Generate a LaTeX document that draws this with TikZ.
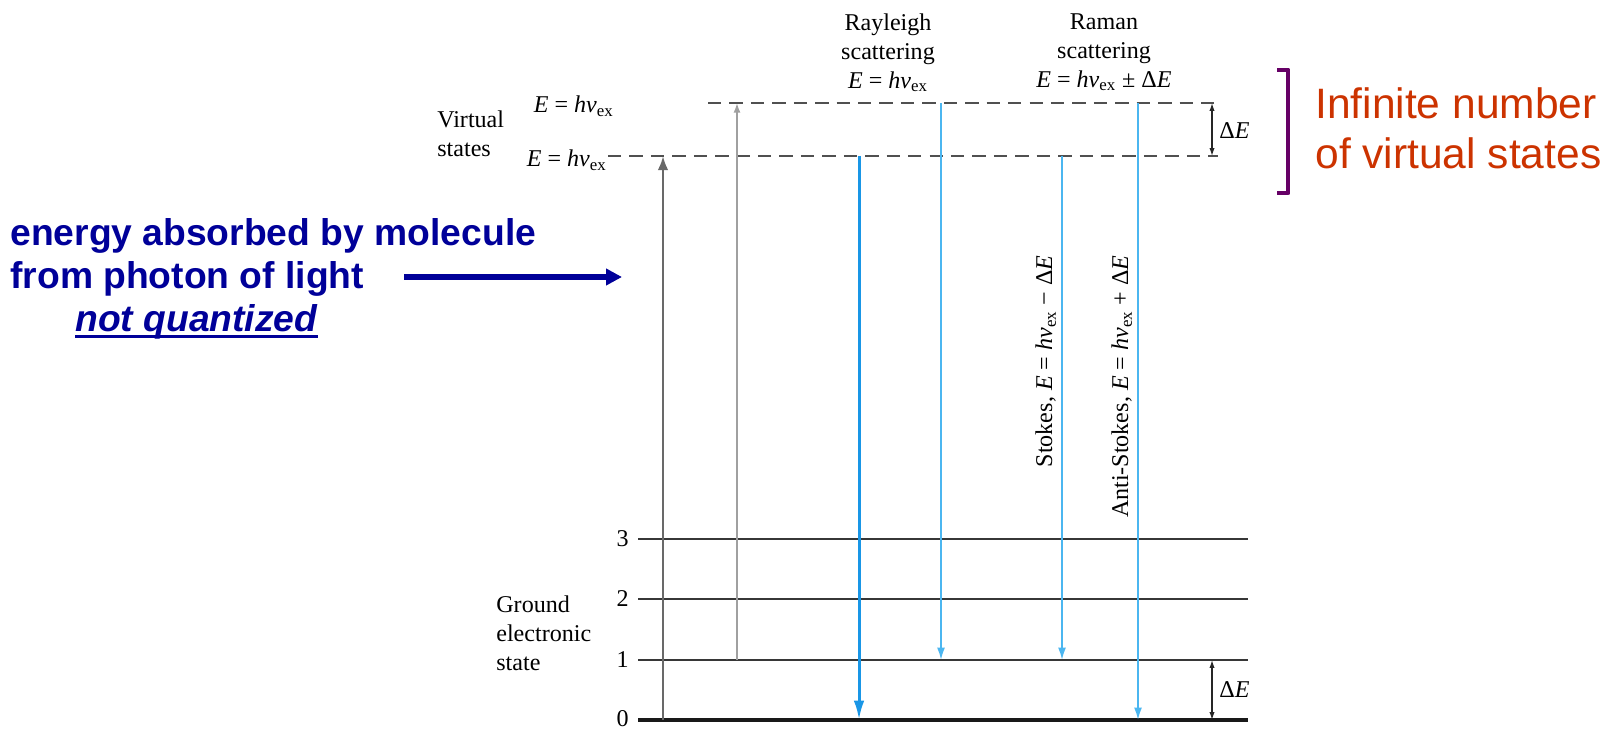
\documentclass[tikz,border=0pt]{standalone}
\usepackage{fontspec}
\setmainfont{Liberation Serif}
\newfontfamily\arialfont{Liberation Sans}
\usetikzlibrary{arrows.meta}

\definecolor{navytext}{RGB}{0,0,153}
\definecolor{rayblue}{RGB}{25,150,230}
\definecolor{skyblue}{RGB}{75,182,240}
\definecolor{redtext}{RGB}{204,51,0}
\definecolor{bracketpurple}{RGB}{102,0,102}
\definecolor{levelgray}{RGB}{55,55,55}
\definecolor{dashgray}{RGB}{80,80,80}
\definecolor{absdark}{RGB}{105,105,105}
\definecolor{abslight}{RGB}{160,160,160}

\newcommand\hnuex{\textit{hν}\textsubscript{ex}}
\newcommand\Eeq{\textit{E} = \hnuex}

\begin{document}
\begin{tikzpicture}[x=0.02cm,y=-0.02cm,
  lbl/.style={font=\fontsize{13.7}{16.5}\selectfont, inner sep=0pt},
  level/.style={draw=levelgray, line width=1.1pt},
  groundlevel/.style={draw=black!90, line width=2pt},
  virt/.style={draw=dashgray, line width=1.15pt, dash pattern=on 7.6pt off 4.6pt},
  absdarkarrow/.style={draw=absdark, line width=1.4pt, -{Latex[length=8pt,width=6pt]}},
  abslightarrow/.style={draw=abslight, line width=0.9pt, -{Latex[length=5.5pt,width=4pt]}},
  rayarrow/.style={draw=rayblue, line width=1.7pt, -{Latex[length=11pt,width=6pt]}},
  scatarrow/.style={draw=skyblue, line width=1pt, -{Latex[length=7pt,width=4.5pt]}},
  gaparrow/.style={draw=black!85, line width=0.7pt, {Latex[length=4.5pt,width=3pt]}-{Latex[length=4.5pt,width=3pt]}},
  bluetext/.style={font=\arialfont\bfseries\fontsize{21.2}{24.5}\selectfont, text=navytext, inner sep=0pt},
  redlabel/.style={font=\arialfont\fontsize{24.2}{28.5}\selectfont, text=redtext, inner sep=0pt}
]
\useasboundingbox (0,0) rectangle (1611,729);

% vibrational levels of the ground electronic state
\coordinate (L0w) at (638,720); \coordinate (L0e) at (1248,720);
\coordinate (L1w) at (638,660); \coordinate (L1e) at (1248,660);
\coordinate (L2w) at (638,599); \coordinate (L2e) at (1248,599);
\coordinate (L3w) at (638,539); \coordinate (L3e) at (1248,539);
\draw[level] (L3w) -- (L3e);
\draw[level] (L2w) -- (L2e);
\draw[level] (L1w) -- (L1e);
\draw[groundlevel] (L0w) -- (L0e);

% virtual states
\coordinate (Vlw) at (608,156); \coordinate (Vle) at (1218,156);
\coordinate (Vuw) at (708,103); \coordinate (Vue) at (1218,103);
\draw[virt] (Vlw) -- (Vle);
\draw[virt] (Vuw) -- (Vue);

% level numbers
\node[lbl, anchor=east] (n3) at (629,539) {3};
\node[lbl, anchor=east] (n2) at (629,599) {2};
\node[lbl, anchor=east] (n1) at (629,660) {1};
\node[lbl, anchor=east] (n0) at (629,719) {0};

% side labels
\node[lbl, anchor=north west, align=left] (ground) at (496,595) {Ground\\electronic\\state};
\node[lbl, anchor=north west, align=left] (virtual) at (437,110) {Virtual\\states};
\node[lbl, anchor=base east] (Eup) at (614,113) {\Eeq};
\node[lbl, anchor=base east] (Elow) at (607,167) {\Eeq};

% column headings
\node[lbl, anchor=north, align=center] (rayleigh) at (888,13) {Rayleigh\\scattering\\\Eeq};
\node[lbl, anchor=north, align=center] (raman) at (1104,13) {Raman\\scattering\\\Eeq{} ± Δ\textit{E}};

% absorption (excitation) arrows
\coordinate (a1s) at (663,720); \coordinate (a1e) at (663,156);
\coordinate (a2s) at (737,660); \coordinate (a2e) at (737,103);
\draw[absdarkarrow] (a1s) -- (a1e);
\draw[abslightarrow] (a2s) -- (a2e);

% scattering (emission) arrows
\coordinate (r1s) at (859,156); \coordinate (r1e) at (859,720);
\coordinate (r2s) at (941,103); \coordinate (r2e) at (941,660);
\coordinate (s1s) at (1062,156); \coordinate (s1e) at (1062,660);
\coordinate (as1s) at (1138,103); \coordinate (as1e) at (1138,720);
\draw[rayarrow] (r1s) -- (r1e);
\draw[scatarrow] (r2s) -- (r2e);
\draw[scatarrow] (s1s) -- (s1e);
\draw[scatarrow] (as1s) -- (as1e);

\node[lbl, rotate=90, anchor=base east] (stokes) at (1052,255) {Stokes, \Eeq{} − Δ\textit{E}};
\node[lbl, rotate=90, anchor=base east] (antistokes) at (1128,255) {Anti-Stokes, \Eeq{} + Δ\textit{E}};

% energy gaps
\coordinate (g1a) at (1212,103); \coordinate (g1b) at (1212,156);
\coordinate (g2a) at (1212,660); \coordinate (g2b) at (1212,720);
\draw[gaparrow] (g1a) -- (g1b);
\draw[gaparrow] (g2a) -- (g2b);
\node[lbl, anchor=west] (dEup) at (1219,131) {Δ\textit{E}};
\node[lbl, anchor=west] (dElow) at (1219,690) {Δ\textit{E}};

% bracket and note on the virtual states
\coordinate (b1) at (1277,70); \coordinate (b2) at (1288,70);
\coordinate (b3) at (1288,193); \coordinate (b4) at (1277,193);
\draw[draw=bracketpurple, line width=2.8pt, line join=round] (b1) -- (b2) -- (b3) -- (b4);
\node[redlabel, anchor=north west, align=left] (infinite) at (1315,87) {Infinite number\\of virtual states};

% note on the absorbed energy
\node[bluetext, anchor=north west, align=left] (absorbed) at (10,218) {energy absorbed by molecule\\from photon of light};
\node[bluetext, anchor=base west] (notq) at (75,331) {\itshape not quantized};
\draw[draw=navytext, line width=1.4pt] ([yshift=-3pt]notq.base west) -- ([yshift=-3pt]notq.base east);
\coordinate (pa) at (404,277); \coordinate (pb) at (622,277);
\draw[draw=navytext, line width=3pt, -{Triangle[length=9pt,width=9pt]}] (pa) -- (pb);
\end{tikzpicture}
\end{document}
